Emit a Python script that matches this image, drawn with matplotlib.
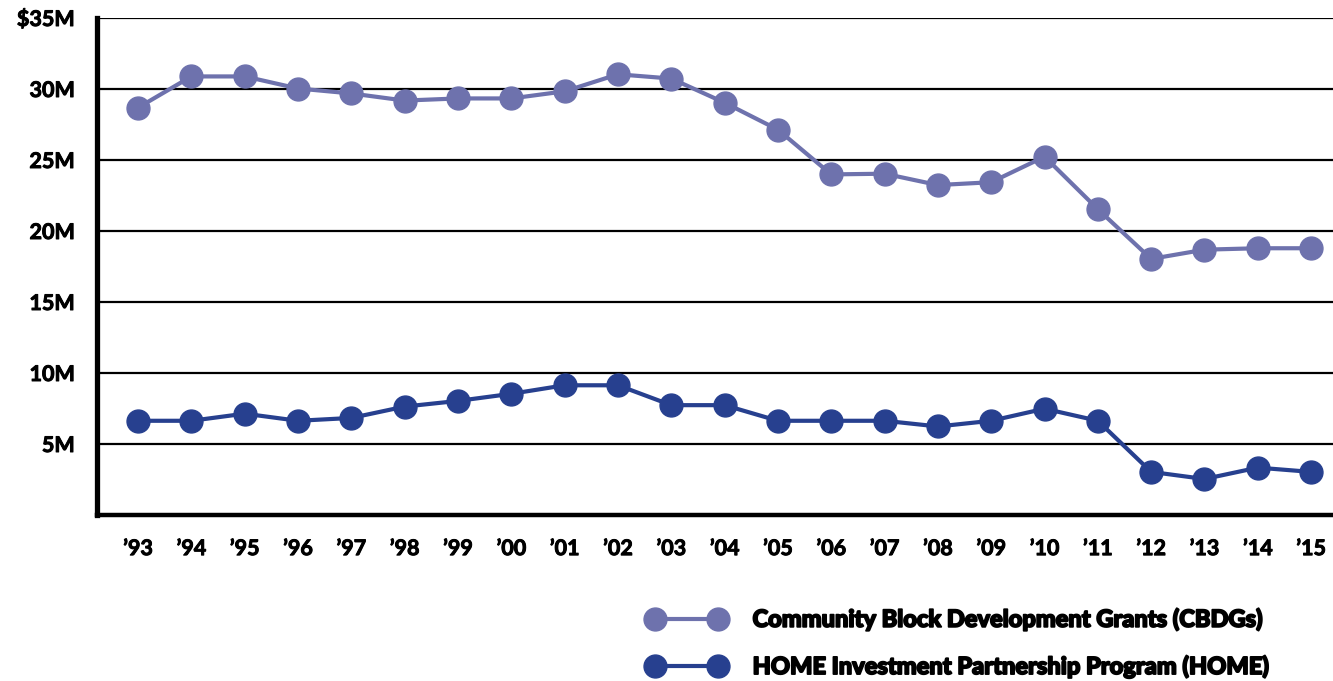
import matplotlib
matplotlib.use('Agg')
import matplotlib.pyplot as plt
import matplotlib.patheffects as pe
from matplotlib.lines import Line2D

plt.rcParams['font.family'] = ['Lato', 'DejaVu Sans']

years = ["\u201993", "\u201994", "\u201995", "\u201996", "\u201997", "\u201998", "\u201999",
         "\u201900", "\u201901", "\u201902", "\u201903", "\u201904", "\u201905", "\u201906",
         "\u201907", "\u201908", "\u201909", "\u201910", "\u201911", "\u201912", "\u201913",
         "\u201914", "\u201915"]
cbdg = [28.65, 30.85, 30.85, 30.0, 29.65, 29.15, 29.3, 29.3, 29.8, 31.0, 30.7, 29.0,
        27.1, 23.95, 24.0, 23.2, 23.4, 25.2, 21.5, 18.0, 18.65, 18.75, 18.75]
home = [6.6, 6.6, 7.1, 6.6, 6.8, 7.6, 8.0, 8.5, 9.1, 9.1, 7.7, 7.7,
        6.6, 6.6, 6.6, 6.2, 6.6, 7.45, 6.6, 3.0, 2.5, 3.3, 3.0]
y_ticks = [5, 10, 15, 20, 25, 30, 35]
y_labels = ['5M', '10M', '15M', '20M', '25M', '30M', '$35M']

C_CBDG = '#6e72ad'
C_HOME = '#27408f'

fig = plt.figure(figsize=(13.33, 6.81), dpi=100)
ax = fig.add_axes([97 / 1333, 1 - 514.5 / 681, 1 - 97 / 1333, (514.5 - 17.5) / 681])

x = list(range(len(years)))
ax.plot(x, cbdg, color=C_CBDG, lw=3, marker='o', ms=16.5, zorder=3)
ax.plot(x, home, color=C_HOME, lw=3, marker='o', ms=16.5, zorder=3)

ax.set_xlim(-0.77, 22.41)
ax.set_ylim(0, 35)
ax.set_yticks(y_ticks)
ax.set_yticklabels(y_labels)
ax.set_xticks(x)
ax.set_xticklabels(years)
ax.tick_params(length=0, labelsize=15.5)
ax.tick_params(axis='y', pad=16)
ax.tick_params(axis='x', pad=17)
thick = [pe.withStroke(linewidth=0.7, foreground='black')]
for lab in ax.get_xticklabels() + ax.get_yticklabels():
    lab.set_fontweight('bold')
    lab.set_path_effects(thick)

ax.grid(axis='y', color='black', lw=1.6, zorder=1)
ax.set_axisbelow(True)
for s in ['top', 'right']:
    ax.spines[s].set_visible(False)
ax.spines['left'].set_linewidth(3.8)
ax.spines['bottom'].set_linewidth(3.2)

handles = [
    Line2D([0, 1], [0, 0], color=C_CBDG, lw=3, marker='o', ms=16.5),
    Line2D([0, 1], [0, 0], color=C_HOME, lw=3, marker='o', ms=16.5),
]
labels = ['Community Block Development Grants (CBDGs)',
          'HOME Investment Partnership Program (HOME)']
leg = fig.legend(handles, labels, loc='upper left', bbox_to_anchor=(627 / 1333, 1 - 586 / 681),
                 frameon=False, numpoints=2, handlelength=3.27, handletextpad=1.15,
                 labelspacing=1.0, prop={'weight': 'black', 'size': 17})
for t in leg.get_texts():
    t.set_path_effects([pe.withStroke(linewidth=1.3, foreground='black')])

fig.savefig('out.png', dpi=100)
